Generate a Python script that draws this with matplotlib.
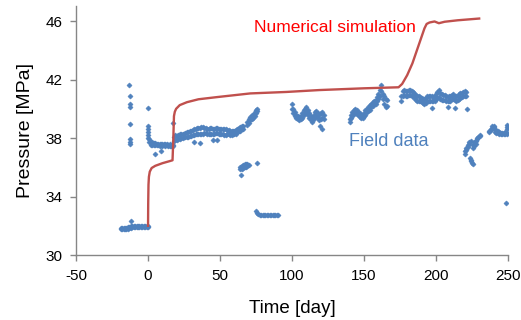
import matplotlib
matplotlib.use("Agg")
import matplotlib.pyplot as plt

plt.rcParams['font.family'] = ['Liberation Sans', 'DejaVu Sans']

# ---------------- data ----------------
x_ticks = [-50, 0, 50, 100, 150, 200, 250]
y_ticks = [30, 34, 38, 42, 46]

# Numerical simulation (day, MPa)
sim_days = [0, 0.1, 0.3, 0.6, 1.2, 2.5, 5, 10, 15, 17.0, 17.5, 18.0, 18.6, 19.5, 22, 27, 35, 48,
            71, 96, 119, 150, 174, 176.5, 180, 183.6, 188.5, 192, 193.5, 195.5, 199, 202, 206, 215, 230]
sim_pressure = [32.0, 33.5, 34.8, 35.35, 35.7, 35.95, 36.1, 36.28, 36.42, 36.48, 37.8, 39.5, 39.8, 40.0,
                40.25, 40.45, 40.65, 40.8, 41.05, 41.15, 41.28, 41.4, 41.47, 41.7, 42.3, 43.1, 44.5,
                45.5, 45.8, 45.9, 45.97, 45.85, 45.95, 46.05, 46.17]

# Field data: each day carries one or more pressure readings
seg_a_days = [-19, -18, -17, -16, -15, -14, -13, -12, -11, -10, -9, -8, -7, -6, -5, -4, -3, -2, -1, 0]
seg_a_p = [[31.75, 31.85], [31.75, 31.85], [31.78, 31.85], [31.78, 31.88], [31.8, 31.88],
           [31.8, 31.9], [31.82, 31.92], [31.88, 31.98, 32.35], [31.9, 31.98], [31.9, 31.98],
           [31.9, 31.98], [31.9, 31.98], [31.9, 31.98], [31.9, 31.98], [31.9, 31.98],
           [31.9, 31.98], [31.92, 31.98], [31.92, 32.0], [31.92, 32.0], [31.95, 32.0]]

spike_days = [-12.9, -12.8, -12.6, -12.5, -12.7, -12.6, -12.5, -12.5]
spike_p = [41.6, 40.85, 40.3, 40.15, 38.95, 37.9, 37.75, 37.6]

seg_b_days = [0.1, 0.3, 1, 2, 3, 4, 4.6, 5, 6, 7, 8, 9, 9.2, 10, 11, 12, 13, 14, 15, 16, 17, 17.6]
seg_b_p = [[40.05], [38.8, 38.6, 38.4, 38.2, 38.0], [37.9, 37.7], [37.75, 37.55], [37.7, 37.5],
           [37.65, 37.5], [36.9], [37.65, 37.5], [37.6, 37.5], [37.62, 37.5], [37.6, 37.48],
           [37.6, 37.5], [37.1], [37.58, 37.45], [37.6, 37.5], [37.58, 37.48], [37.6, 37.5],
           [37.55, 37.45], [37.58, 37.48], [37.55, 37.45], [37.55, 37.45], [39.05]]

seg_c_days = [18, 19, 20, 21, 22, 23, 24, 25, 26, 27, 28, 29, 30, 31, 31.6, 32, 33, 34, 35, 36, 37, 38,
              39, 40, 41, 42, 43, 44, 45, 46, 47, 48, 49, 50, 51, 52, 53, 54, 55, 56, 57, 58, 59,
              60, 61, 62, 63, 64, 65, 65.8]
seg_c_p = [[37.8, 38.1], [37.85, 38.2], [37.85, 38.15], [37.9, 38.2], [37.95, 38.25], [38.0, 38.3],
           [38.0, 38.3], [38.05, 38.3], [38.05, 38.35], [38.1, 38.4], [38.1, 38.4], [38.15, 38.45],
           [38.15, 38.45], [38.2, 38.55], [37.7], [38.2, 38.6], [38.25, 38.65], [38.25, 38.7],
           [38.3, 38.7], [38.3, 38.7, 37.65], [38.3, 38.75], [38.3, 38.75], [38.35, 38.7],
           [38.35, 38.7], [38.3, 38.65], [38.3, 38.65], [38.25, 38.7], [38.25, 38.7], [38.3, 38.65, 37.85],
           [38.3, 38.65], [38.35, 38.7], [38.35, 38.7, 37.85], [38.3, 38.6], [38.3, 38.6], [38.25, 38.65],
           [38.25, 38.65], [38.2, 38.6], [38.2, 38.6], [38.3, 38.55], [38.3, 38.55], [38.2, 38.5],
           [38.2, 38.5], [38.25, 38.45], [38.25, 38.45], [38.3, 38.55], [38.4, 38.6], [38.45, 38.7],
           [38.5, 38.75], [38.6, 38.85], [38.65, 38.85]]

seg_c2_days = [69, 70, 71, 72, 73, 74, 75, 75.8]
seg_c2_p = [[38.9, 39.1], [39.0, 39.3], [39.2, 39.45], [39.3, 39.55], [39.4, 39.6], [39.5, 39.75],
            [39.7, 39.9], [39.85, 40.0]]

seg_d_days = [64, 64.3, 65, 66, 67, 68, 69, 70, 75.5]
seg_d_p = [[35.85, 36.05], [35.45], [35.9, 36.1], [35.95, 36.15], [36.0, 36.2], [36.05, 36.2],
           [36.1, 36.25], [36.15], [36.3]]

seg_e_days = [75.3, 75.8, 76.5, 77.5, 78.5, 79.5, 80.5, 81.5, 82.5, 83.5, 84.5, 85.5, 86.5, 87.5,
              88.5, 89.5, 90.5]
seg_e_p = [[33.0], [32.85], [32.78], [32.75], [32.75], [32.75], [32.75], [32.75], [32.75], [32.75],
           [32.75], [32.75], [32.75], [32.75], [32.75], [32.75], [32.75]]

seg_f_days = [100, 101, 102, 103, 104, 105, 106, 107, 108, 109, 110, 111, 112, 113, 114, 115, 116,
              117, 118, 119, 119.5, 120, 120.5, 121, 122]
seg_f_p = [[40.3, 40.0], [40.0, 39.7], [39.8, 39.5], [39.6, 39.35], [39.5, 39.3], [39.45, 39.25],
           [39.5, 39.3], [39.7, 39.4], [39.9, 39.55], [40.0, 39.7], [40.1, 39.75], [39.9, 39.6],
           [39.7, 39.4], [39.5, 39.2], [39.4, 39.1], [39.6, 39.3], [39.8, 39.5], [39.85, 39.5],
           [39.7, 39.4], [39.6, 39.2], [38.8], [39.7, 39.3], [38.65], [39.8, 39.4], [39.6, 39.3]]

seg_g_days = [140, 141, 142, 143, 144, 145, 146, 147, 148, 149, 150, 151, 152, 153, 154, 155, 156,
              157, 158, 159, 160, 161, 162, 163, 164, 165, 166]
seg_g_p = [[39.3, 39.1], [39.6, 39.35], [39.8, 39.5], [39.95, 39.65], [40.0, 39.7], [39.95, 39.65],
           [39.8, 39.55], [39.7, 39.45], [39.6, 39.35], [39.6, 39.4], [39.7, 39.5], [39.9, 39.6],
           [40.0, 39.75], [40.1, 39.85], [40.25, 39.95], [40.35, 40.1], [40.45, 40.2], [40.55, 40.3],
           [40.6, 40.35], [40.8, 40.5], [41.0, 40.7], [41.3, 40.9], [41.6, 41.2], [41.0, 40.7],
           [40.9, 40.3], [40.7, 40.1], [40.6, 40.2]]

seg_h_days = [176, 177, 178, 179, 180, 181, 182, 183, 184, 185, 186, 187, 188, 189, 190, 191, 192,
              193, 194, 195, 196, 197, 197.5, 198, 199, 200, 201, 202, 203, 204, 205, 206, 207, 208,
              209, 210, 211, 212, 213, 213.5, 214, 215, 216, 217, 218, 219, 220, 221, 221.5]
seg_h_p = [[40.9, 40.5], [41.2, 40.85], [41.25, 40.95], [41.2, 40.9], [41.2, 40.9], [41.25, 40.95],
           [41.25, 40.95], [41.2, 40.9], [41.15, 40.85], [41.05, 40.75], [40.95, 40.6], [40.9, 40.55],
           [40.85, 40.5], [40.8, 40.5], [40.75, 40.45], [40.7, 40.4], [40.7, 40.35], [40.75, 40.4],
           [40.85, 40.5], [40.9, 40.55], [40.9, 40.55], [40.85, 40.5], [40.05], [40.8, 40.5],
           [40.9, 40.55], [41.0, 40.65], [41.15, 40.75], [41.25, 40.8], [41.1, 40.7], [41.0, 40.6],
           [40.95, 40.6], [40.95, 40.6], [40.85, 40.55], [40.8, 40.5, 40.15], [40.85, 40.5],
           [40.9, 40.55], [40.95, 40.65], [41.0, 40.7], [40.9, 40.6], [40.05], [40.85, 40.55],
           [40.9, 40.6], [41.0, 40.7], [41.05, 40.75], [41.1, 40.8], [41.15, 40.85], [41.2, 40.85],
           [41.15, 40.9], [40.0]]

seg_i_days = [220, 221, 222, 223, 223.3, 224, 224.5, 225, 225.5, 226, 226.5, 227.5, 228.5, 229.5, 230.5]
seg_i_p = [[36.9, 37.1], [37.2, 37.35], [37.4, 37.55], [37.6, 37.75], [36.65], [37.8, 36.5], [36.4],
           [36.3], [37.3, 37.5], [36.2], [37.45, 37.6, 37.7], [37.6, 37.8], [37.9, 38.0], [38.05],
           [38.15, 38.2]]

seg_j_days = [237, 238, 239, 240, 241, 242, 243, 244, 245, 246, 247, 248, 248.7, 249, 249.5]
seg_j_p = [[38.4, 38.5], [38.55, 38.65], [38.7, 38.8], [38.75, 38.8], [38.6, 38.4], [38.45, 38.35],
           [38.35, 38.45], [38.3, 38.4], [38.3, 38.35], [38.25, 38.35], [38.3, 38.35], [38.3, 38.4],
           [33.55], [38.35, 38.3], [38.6, 38.75, 38.9]]

segments = [(seg_a_days, seg_a_p), (seg_b_days, seg_b_p), (seg_c_days, seg_c_p),
            (seg_c2_days, seg_c2_p), (seg_d_days, seg_d_p), (seg_e_days, seg_e_p),
            (seg_f_days, seg_f_p), (seg_g_days, seg_g_p), (seg_h_days, seg_h_p),
            (seg_i_days, seg_i_p), (seg_j_days, seg_j_p)]

field_x, field_y = list(spike_days), list(spike_p)
for days, ps in segments:
    for d, plist in zip(days, ps):
        for p in plist:
            field_x.append(d)
            field_y.append(p)

# ---------------- plot ----------------
SIM_COLOR = '#C0504D'
FIELD_COLOR = '#4F81BD'
AXIS_COLOR = '#868686'

fig = plt.figure(figsize=(5.21, 3.20), dpi=100)
ax = fig.add_axes([0.146, 0.203, 0.829, 0.777])

ax.plot(field_x, field_y, linestyle='none', marker='D', markersize=2.6,
        color=FIELD_COLOR, markeredgewidth=0.4, zorder=2)
ax.plot(sim_days, sim_pressure, color=SIM_COLOR, linewidth=1.7, zorder=3,
        solid_joinstyle='round')

ax.set_xlim(-50, 250)
ax.set_ylim(30, 47)
ax.set_xticks(x_ticks)
ax.set_yticks(y_ticks)
ax.set_xticklabels([str(t) for t in x_ticks])
ax.set_yticklabels([str(t) for t in y_ticks])

for side in ['top', 'right']:
    ax.spines[side].set_visible(False)
for side in ['left', 'bottom']:
    ax.spines[side].set_color(AXIS_COLOR)
    ax.spines[side].set_linewidth(1.0)
ax.tick_params(axis='both', colors=AXIS_COLOR, labelcolor='#000000', labelsize=11,
               length=4, width=1.0, direction='out')
ax.tick_params(axis='x', pad=6)
ax.tick_params(axis='y', pad=6)

ax.set_xlabel('Time [day]', fontsize=13.5, labelpad=12.5)
ax.set_ylabel('Pressure [MPa]', fontsize=14, labelpad=8)

ax.text(129.5, 45.55, 'Numerical simulation', color='#FF0000', fontsize=12.5,
        ha='center', va='center')
ax.text(167, 37.75, 'Field data', color=FIELD_COLOR, fontsize=13,
        ha='center', va='center')

fig.savefig('out.png', dpi=100)
